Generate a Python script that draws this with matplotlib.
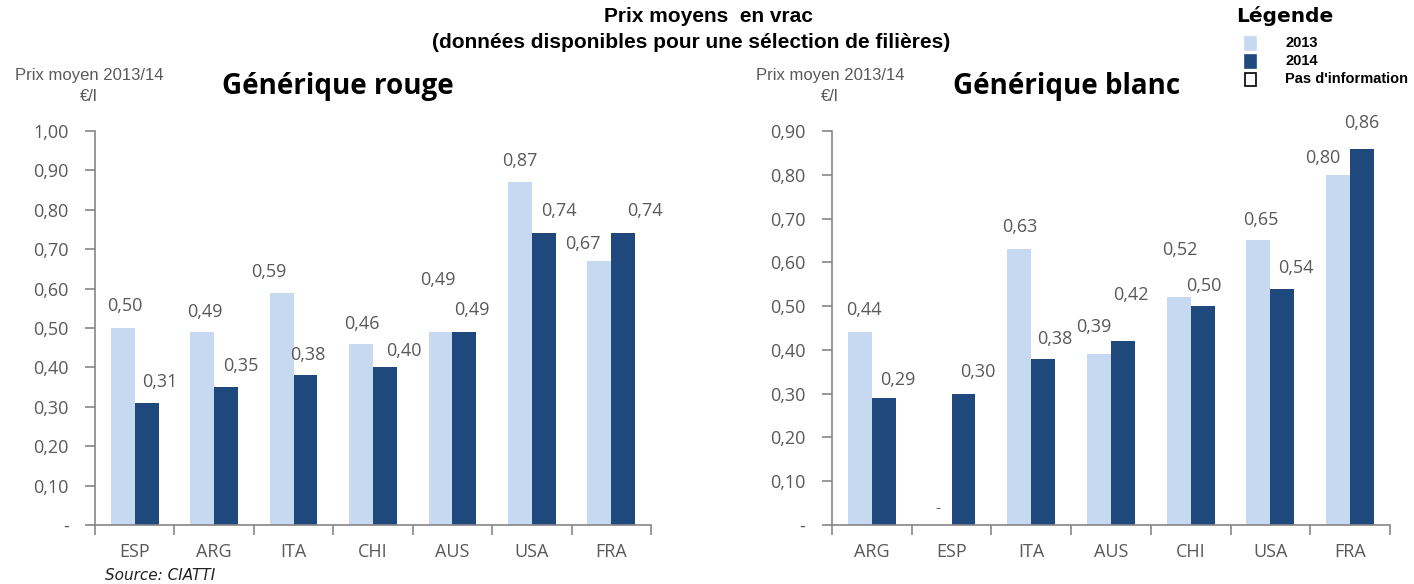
import matplotlib.pyplot as plt
import numpy as np

# data
rouge_pays = ["ESP", "ARG", "ITA", "CHI", "AUS", "USA", "FRA"]
rouge_2013 = [0.50, 0.49, 0.59, 0.46, 0.49, 0.87, 0.67]
rouge_2014 = [0.31, 0.35, 0.38, 0.40, 0.49, 0.74, 0.74]

blanc_pays = ["ARG", "ESP", "ITA", "AUS", "CHI", "USA", "FRA"]
blanc_2013 = [0.44, None, 0.63, 0.39, 0.52, 0.65, 0.80]
blanc_2014 = [0.29, 0.30, 0.38, 0.42, 0.50, 0.54, 0.86]

# label placement tweaks (pixels): horizontal shift, gap above bar
rouge_nudge13 = [(2, 16), (3, 14), (-13, 15), (1, 14), (-3, 46), (0, 15), (-17, 11)]
rouge_nudge14 = [(13, 15), (15, 15), (2, 14), (19, 10), (8, 16), (15, 16), (22, 16)]
blanc_nudge13 = [(4, 16), (0, 0), (0, 16), (-5, 21), (1, 41), (2, 14), (-15, 11)]
blanc_nudge14 = [(14, 12), (14, 16), (12, 14), (8, 40), (1, 14), (14, 15), (0, 20)]

c13 = "#C6D9F1"
c14 = "#1F497D"
grey_txt = "#595959"
grey_ax = "#868686"
font = "Open Sans"
px = 0.72  # points per pixel at dpi 100

def fmt(v):
    return "-" if v == 0 else ("%.2f" % v).replace(".", ",")

def draw_panel(ax, pays, v13, v14, ymax, title, tx, n13, n14):
    x = np.arange(len(pays))
    w = 0.3
    h13 = [v if v is not None else 0 for v in v13]
    ax.bar(x - w / 2, h13, w, color=c13, zorder=2)
    ax.bar(x + w / 2, v14, w, color=c14, zorder=2)
    for i in range(len(pays)):
        if v13[i] is None:
            ax.annotate("-", (x[i] - w / 2, 0), xytext=(-2 * px, 17 * px),
                        textcoords="offset points", ha="center", va="center",
                        color=grey_txt, fontsize=11, family=font)
        else:
            ax.annotate(fmt(v13[i]), (x[i] - w / 2, v13[i]),
                        xytext=(n13[i][0] * px, (n13[i][1] - 3) * px),
                        textcoords="offset points", ha="center", va="bottom",
                        color=grey_txt, fontsize=13, family=font, zorder=5)
        ax.annotate(fmt(v14[i]), (x[i] + w / 2, v14[i]),
                    xytext=(n14[i][0] * px, (n14[i][1] - 3) * px),
                    textcoords="offset points", ha="center", va="bottom",
                    color=grey_txt, fontsize=13, family=font, zorder=5)
    ax.set_xlim(-0.5, len(pays) - 0.5)
    ax.set_ylim(0, ymax)
    yt = np.arange(0, ymax + 0.001, 0.1)
    ax.set_yticks(yt)
    ax.set_yticklabels([fmt(round(v, 2)) for v in yt], color=grey_txt,
                       fontsize=13, family=font)
    ax.set_xticks(x)
    ax.set_xticklabels(pays, color=grey_txt, fontsize=13, family=font)
    ax.tick_params(axis="x", length=0, pad=13)
    ax.set_xticks(np.arange(-0.5, len(pays)), minor=True)
    ax.tick_params(axis="x", which="minor", length=7, color=grey_ax, width=1.2)
    ax.tick_params(axis="y", length=7, color=grey_ax, width=1.2, pad=12)
    for s in ["top", "right"]:
        ax.spines[s].set_visible(False)
    for s in ["left", "bottom"]:
        ax.spines[s].set_color(grey_ax)
        ax.spines[s].set_linewidth(1.2)
    ax.text(tx, 1.112, title, transform=ax.transAxes, ha="center", va="center",
            fontsize=20, fontweight="bold", family=font)

fig = plt.figure(figsize=(14.14, 5.84), dpi=100)
ax1 = fig.add_axes([0.0672, 0.101, 0.3932, 0.6747])
ax2 = fig.add_axes([0.5884, 0.101, 0.3946, 0.6747])

draw_panel(ax1, rouge_pays, rouge_2013, rouge_2014, 1.0, "Générique rouge",
           0.437, rouge_nudge13, rouge_nudge14)
draw_panel(ax2, blanc_pays, blanc_2013, blanc_2014, 0.9, "Générique blanc",
           0.421, blanc_nudge13, blanc_nudge14)

# axis unit labels
for xp in [0.063, 0.587]:
    fig.text(xp, 0.870, "Prix moyen 2013/14", ha="center", va="center",
             color=grey_txt, fontsize=12, family="Liberation Sans")
    fig.text(xp, 0.834, "€/l", ha="center", va="center",
             color=grey_txt, fontsize=12, family="Liberation Sans")

# main title
fig.text(0.501, 0.971, "Prix moyens  en vrac", ha="center", va="center",
         fontsize=15, fontweight="bold", family="Liberation Sans")
fig.text(0.489, 0.928, "(données disponibles pour une sélection de filières)",
         ha="center", va="center", fontsize=15, fontweight="bold",
         family="Liberation Sans")

# legend
fig.text(0.874, 0.972, "Légende", ha="left", va="center", fontsize=14.5,
         fontweight="bold", family="DejaVu Sans")
leg_items = [("2013", c13, c13), ("2014", c14, c14), ("Pas d'information", "white", "black")]
for i, (lab, fc, ec) in enumerate(leg_items):
    yy = 0.926 - i * 0.0308
    fig.patches.append(plt.Rectangle((0.8805, yy - 0.011), 0.0075, 0.022,
                                     transform=fig.transFigure, facecolor=fc,
                                     edgecolor=ec, linewidth=1.2))
    fig.text(0.909, yy, lab, ha="left", va="center", fontsize=10.5,
             fontweight="bold", family="Liberation Sans")

fig.text(0.074, 0.015, "Source: CIATTI", ha="left", va="center",
         fontsize=11, style="italic", color="#222222")

plt.savefig("out.png", dpi=100)
